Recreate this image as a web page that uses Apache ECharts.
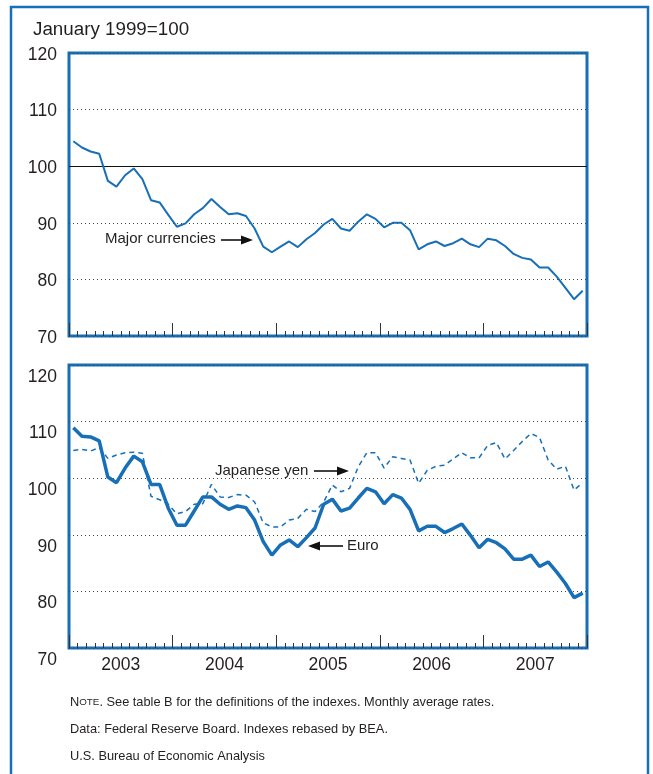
<!DOCTYPE html>
<html>
<head>
<meta charset="utf-8">
<script src="https://cdn.jsdelivr.net/npm/echarts@6/dist/echarts.min.js"></script>
<style>
html,body{margin:0;padding:0;background:#fff;}
#chart{width:653px;height:774px;}
</style>
</head>
<body>
<div id="chart"></div>
<script>
// ---- data ----
var years = ['2003', '2004', '2005', '2006', '2007'];
var monthNames = ['Jan','Feb','Mar','Apr','May','Jun','Jul','Aug','Sep','Oct','Nov','Dec'];
var yTicks = [70, 80, 90, 100, 110, 120];

var majorCurrencies = [
  104.4, 103.3, 102.6, 102.2, 97.4, 96.4, 98.4, 99.6, 97.7, 94.0, 93.6, 91.4,
  89.3, 89.9, 91.5, 92.6, 94.2, 92.8, 91.5, 91.7, 91.2, 89.0, 85.8, 84.8,
  85.8, 86.7, 85.7, 87.1, 88.2, 89.7, 90.7, 89.0, 88.6, 90.2, 91.5, 90.7,
  89.2, 90.0, 90.0, 88.7, 85.3, 86.2, 86.7, 85.9, 86.4, 87.2, 86.2, 85.7,
  87.2, 86.9, 85.9, 84.5, 83.8, 83.5, 82.1, 82.1, 80.5, 78.5, 76.5, 78.0
];
var euro = [
  108.9, 107.4, 107.3, 106.6, 100.2, 99.2, 101.8, 103.9, 102.9, 98.9, 98.9, 94.7,
  91.7, 91.7, 94.2, 96.7, 96.7, 95.4, 94.5, 95.1, 94.8, 92.6, 88.8, 86.4,
  88.2, 89.1, 87.9, 89.5, 91.2, 95.4, 96.3, 94.2, 94.7, 96.5, 98.2, 97.6,
  95.5, 97.1, 96.5, 94.5, 90.7, 91.5, 91.5, 90.4, 91.1, 91.9, 89.9, 87.7,
  89.2, 88.6, 87.5, 85.7, 85.7, 86.4, 84.4, 85.2, 83.4, 81.4, 78.9, 79.7
];
var yen = [
  104.9, 105.1, 104.8, 105.4, 103.5, 104.1, 104.5, 104.6, 104.4, 96.8, 96.2, 95.4,
  93.7, 94.1, 95.4, 95.5, 98.9, 96.7, 96.6, 97.1, 97.0, 95.8, 92.1, 91.4,
  91.4, 92.6, 92.9, 94.5, 94.1, 95.8, 98.8, 97.6, 98.2, 102.0, 104.5, 104.5,
  101.8, 103.8, 103.5, 103.2, 99.1, 101.4, 102.1, 102.3, 103.4, 104.5, 103.6, 103.6,
  105.8, 106.3, 103.4, 104.9, 106.5, 107.9, 107.2, 103.2, 101.6, 102.1, 97.9, 99.2
];

var months = [];
years.forEach(function (y) { monthNames.forEach(function (m) { months.push(m + ' ' + y); }); });

// ---- styling ----
var BLUE = '#176fb7';
var TXT = '#231f20';
var FONT = '"Liberation Sans", Arial, sans-serif';

var GL = 69, GW = 518, GH = 283;
var grids = [
  { left: GL, top: 53, width: GW, height: GH, show: true, borderColor: BLUE, borderWidth: 3, backgroundColor: 'transparent' },
  { left: GL, top: 365, width: GW, height: GH, show: true, borderColor: BLUE, borderWidth: 3, backgroundColor: 'transparent' }
];

function monthAxis(gi) {
  return {
    type: 'category', gridIndex: gi, data: months, boundaryGap: true, position: 'bottom',
    axisLine: { show: false },
    axisTick: { show: true, inside: true, interval: 0, length: 5, lineStyle: { color: '#333', width: 1 } },
    axisLabel: { show: false }, splitLine: { show: false }
  };
}
function yearAxis(gi, showLabel) {
  return {
    type: 'category', gridIndex: gi, data: years, boundaryGap: true, position: 'bottom',
    axisLine: { show: false },
    axisTick: { show: true, inside: true, interval: 0, length: 13, lineStyle: { color: '#333', width: 1 } },
    axisLabel: { show: showLabel, interval: 0, color: TXT, fontSize: 17.5, fontFamily: FONT, margin: 8 },
    splitLine: { show: false }
  };
}
function valAxis(gi, lh) {
  return {
    type: 'value', gridIndex: gi, min: yTicks[0], max: yTicks[yTicks.length - 1], interval: 10,
    axisLine: { show: false }, axisTick: { show: false },
    axisLabel: {
      color: TXT, fontSize: 17.5, fontFamily: FONT, margin: 12, lineHeight: lh,
      formatter: function (v) { return '\n' + v; }
    },
    splitLine: { show: true, lineStyle: { color: '#444', width: 1, type: [1, 3] } }
  };
}

var chart = echarts.init(document.getElementById('chart'), null, { renderer: 'canvas' });

function arrowRight(x1, x2, y) {
  return [
    { type: 'line', shape: { x1: x1, y1: y, x2: x2 - 8, y2: y }, style: { stroke: '#111', lineWidth: 1.6 } },
    { type: 'polygon', shape: { points: [[x2 - 12, y - 4.5], [x2, y], [x2 - 12, y + 4.5]] }, style: { fill: '#111' } }
  ];
}
function arrowLeft(x1, x2, y) { // x1 tail (right), x2 head (left)
  return [
    { type: 'line', shape: { x1: x1, y1: y, x2: x2 + 8, y2: y }, style: { stroke: '#111', lineWidth: 1.6 } },
    { type: 'polygon', shape: { points: [[x2 + 12, y - 4.5], [x2, y], [x2 + 12, y + 4.5]] }, style: { fill: '#111' } }
  ];
}
function label(text, x, y) {
  return { type: 'text', x: x, y: y, style: { text: text, fill: TXT, font: '15px ' + FONT, verticalAlign: 'middle' } };
}

var graphics = [
  { type: 'rect', shape: { x: 11, y: 7, width: 637, height: 800 }, style: { fill: 'none', stroke: BLUE, lineWidth: 2.5 }, z: 0 },
  { type: 'text', x: 33, y: 30, style: { text: 'January 1999=100', fill: TXT, font: '18.8px ' + FONT, verticalAlign: 'middle' } },
  label('Major currencies', 105, 239),
  label('Japanese yen', 215, 471),
  label('Euro', 347, 546),
  {
    type: 'text', x: 70, y: 702,
    style: {
      text: '{sc|N}{sm|OTE}{sc|. See table B for the definitions of the indexes. Monthly average rates.}',
      verticalAlign: 'middle',
      rich: { sc: { fontSize: 12.8, fontFamily: FONT, fill: TXT }, sm: { fontSize: 9.8, fontFamily: FONT, fill: TXT } }
    }
  },
  { type: 'text', x: 70, y: 729, style: { text: 'Data: Federal Reserve Board. Indexes rebased by BEA.', fill: TXT, font: '12.8px ' + FONT, verticalAlign: 'middle' } },
  { type: 'text', x: 70, y: 756, style: { text: 'U.S. Bureau of Economic Analysis', fill: TXT, font: '12.8px ' + FONT, verticalAlign: 'middle' } }
].concat(arrowRight(221, 253, 240), arrowRight(314, 349, 471), arrowLeft(343, 308, 546));

chart.setOption({
  animation: false,
  backgroundColor: '#fff',
  grid: grids,
  xAxis: [monthAxis(0), yearAxis(0, false), monthAxis(1), yearAxis(1, true)],
  yAxis: [valAxis(0, 4), valAxis(1, 24)],
  graphic: graphics,
  series: [
    {
      name: 'Major currencies', type: 'line', xAxisIndex: 0, yAxisIndex: 0, data: majorCurrencies,
      symbol: 'none', lineStyle: { color: BLUE, width: 2 }, z: 5,
      markLine: { silent: true, symbol: 'none', label: { show: false }, lineStyle: { color: '#111', type: 'solid', width: 1.2 }, data: [{ yAxis: 100 }] }
    },
    {
      name: 'Japanese yen', type: 'line', xAxisIndex: 2, yAxisIndex: 1, data: yen,
      symbol: 'none', lineStyle: { color: BLUE, width: 1.5, type: [5, 4] }, z: 4
    },
    {
      name: 'Euro', type: 'line', xAxisIndex: 2, yAxisIndex: 1, data: euro,
      symbol: 'none', lineStyle: { color: BLUE, width: 3.5 }, z: 5
    }
  ]
});
</script>
</body>
</html>
